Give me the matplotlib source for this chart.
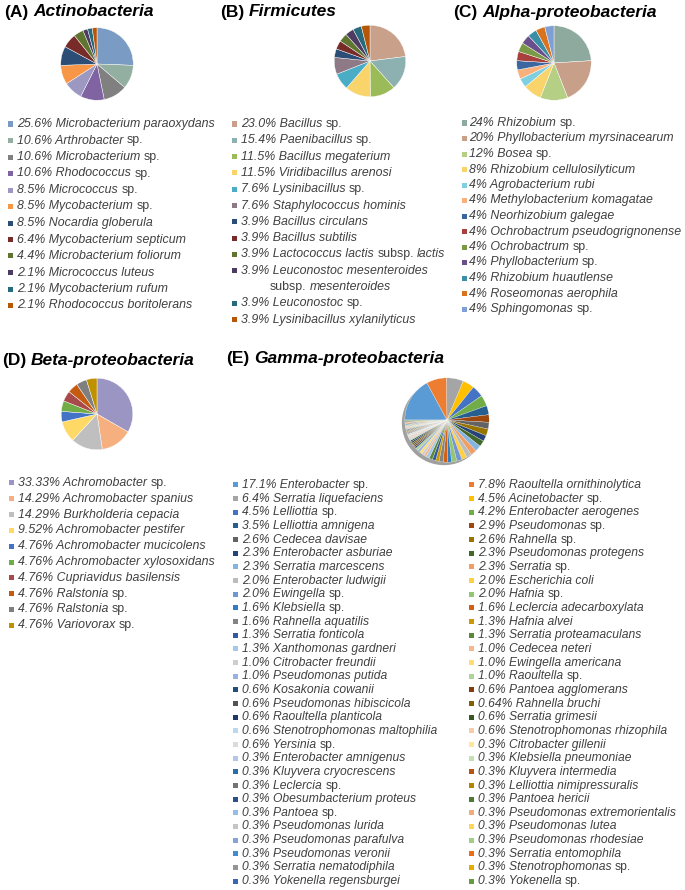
# Pie charts of isolate composition for five bacterial groups (A-E)
import colorsys
import matplotlib.pyplot as plt
import matplotlib.colors as mcolors
from matplotlib.patches import Rectangle

W, H = 685, 890

# ---- data -------------------------------------------------------------
act_pct = [25.6, 10.6, 10.6, 10.6, 8.5, 8.5, 8.5, 6.4, 4.4, 2.1, 2.1, 2.1]
act_names = ['Microbacterium paraoxydans', 'Arthrobacter sp.', 'Microbacterium sp.',
             'Rhodococcus sp.', 'Micrococcus sp.', 'Mycobacterium sp.',
             'Nocardia globerula', 'Mycobacterium septicum', 'Microbacterium foliorum',
             'Micrococcus luteus', 'Mycobacterium rufum', 'Rhodococcus boritolerans']

firm_pct = [23.0, 15.4, 11.5, 11.5, 7.6, 7.6, 3.9, 3.9, 3.9, 3.9, 3.9, 3.9]
firm_names = ['Bacillus sp.', 'Paenibacillus sp.', 'Bacillus megaterium',
              'Viridibacillus arenosi', 'Lysinibacillus sp.', 'Staphylococcus hominis',
              'Bacillus circulans', 'Bacillus subtilis', 'Lactococcus lactis subsp. lactis',
              'Leuconostoc mesenteroides\nsubsp. mesenteroides', 'Leuconostoc sp.',
              'Lysinibacillus xylanilyticus']

alpha_pct = [24, 20, 12, 8, 4, 4, 4, 4, 4, 4, 4, 4, 4]
alpha_names = ['Rhizobium sp.', 'Phyllobacterium myrsinacearum', 'Bosea sp.',
               'Rhizobium cellulosilyticum', 'Agrobacterium rubi',
               'Methylobacterium komagatae', 'Neorhizobium galegae',
               'Ochrobactrum pseudogrignonense', 'Ochrobactrum sp.',
               'Phyllobacterium sp.', 'Rhizobium huautlense', 'Roseomonas aerophila',
               'Sphingomonas sp.']

beta_pct = [33.33, 14.29, 14.29, 9.52, 4.76, 4.76, 4.76, 4.76, 4.76, 4.76]
beta_names = ['Achromobacter sp.', 'Achromobacter spanius', 'Burkholderia cepacia',
              'Achromobacter pestifer', 'Achromobacter mucicolens',
              'Achromobacter xylosoxidans', 'Cupriavidus basilensis', 'Ralstonia sp.',
              'Ralstonia sp.', 'Variovorax sp.']

# Gamma-proteobacteria, legend printed in two columns (row-wise order)
gam_left_pct = [17.1, 6.4, 4.5, 3.5, 2.6, 2.3, 2.3, 2.0, 2.0, 1.6, 1.6, 1.3, 1.3, 1.0, 1.0,
                0.6, 0.6, 0.6, 0.6, 0.6, 0.3, 0.3, 0.3, 0.3, 0.3, 0.3, 0.3, 0.3, 0.3, 0.3]
gam_left_names = ['Enterobacter sp.', 'Serratia liquefaciens', 'Lelliottia sp.',
                  'Lelliottia amnigena', 'Cedecea davisae', 'Enterobacter asburiae',
                  'Serratia marcescens', 'Enterobacter ludwigii', 'Ewingella sp.',
                  'Klebsiella sp.', 'Rahnella aquatilis', 'Serratia fonticola',
                  'Xanthomonas gardneri', 'Citrobacter freundii', 'Pseudomonas putida',
                  'Kosakonia cowanii', 'Pseudomonas hibiscicola', 'Raoultella planticola',
                  'Stenotrophomonas maltophilia', 'Yersinia sp.', 'Enterobacter amnigenus',
                  'Kluyvera cryocrescens', 'Leclercia sp.', 'Obesumbacterium proteus',
                  'Pantoea sp.', 'Pseudomonas lurida', 'Pseudomonas parafulva',
                  'Pseudomonas veronii', 'Serratia nematodiphila', 'Yokenella regensburgei']
gam_left_lbl = ['17.1', '6.4', '4.5', '3.5', '2.6', '2.3', '2.3', '2.0', '2.0', '1.6', '1.6',
                '1.3', '1.3', '1.0', '1.0', '0.6', '0.6', '0.6', '0.6', '0.6', '0.3', '0.3',
                '0.3', '0.3', '0.3', '0.3', '0.3', '0.3', '0.3', '0.3']
gam_right_pct = [7.8, 4.5, 4.2, 2.9, 2.6, 2.3, 2.3, 2.0, 2.0, 1.6, 1.3, 1.3, 1.0, 1.0, 1.0,
                 0.6, 0.64, 0.6, 0.6, 0.3, 0.3, 0.3, 0.3, 0.3, 0.3, 0.3, 0.3, 0.3, 0.3, 0.3]
gam_right_names = ['Raoultella ornithinolytica', 'Acinetobacter sp.', 'Enterobacter aerogenes',
                   'Pseudomonas sp.', 'Rahnella sp.', 'Pseudomonas protegens', 'Serratia sp.',
                   'Escherichia coli', 'Hafnia sp.', 'Leclercia adecarboxylata',
                   'Hafnia alvei', 'Serratia proteamaculans', 'Cedecea neteri',
                   'Ewingella americana', 'Raoultella sp.', 'Pantoea agglomerans',
                   'Rahnella bruchi', 'Serratia grimesii', 'Stenotrophomonas rhizophila',
                   'Citrobacter gillenii', 'Klebsiella pneumoniae', 'Kluyvera intermedia',
                   'Lelliottia nimipressuralis', 'Pantoea hericii',
                   'Pseudomonas extremorientalis', 'Pseudomonas lutea',
                   'Pseudomonas rhodesiae', 'Serratia entomophila', 'Stenotrophomonas sp.',
                   'Yokenella sp.']
gam_right_lbl = ['7.8', '4.5', '4.2', '2.9', '2.6', '2.3', '2.3', '2.0', '2.0', '1.6', '1.3',
                 '1.3', '1.0', '1.0', '1.0', '0.6', '0.64', '0.6', '0.6', '0.3', '0.3', '0.3',
                 '0.3', '0.3', '0.3', '0.3', '0.3', '0.3', '0.3', '0.3']

# ---- colours ----------------------------------------------------------
act_colors = ['#7A9CC4', '#93AFA2', '#808080', '#8064A2', '#9C98C2', '#F79646',
              '#2C4D75', '#772C2A', '#5F7530', '#4D3B62', '#276A7C', '#B65708']
firm_colors = ['#C9A08A', '#8DB0B0', '#9BBB59', '#F9D46B', '#4BACC6', '#8E7A86',
               '#2C4D75', '#772C2A', '#5F7530', '#4D3B62', '#276A7C', '#B65708']
alpha_colors = ['#8EA99E', '#C8A08A', '#B5CF84', '#F9D46B', '#7FCFE0', '#FAB07A',
                '#3B66A0', '#A8403E', '#7A9A45', '#6A4F8A', '#3A8EA5', '#D9731F', '#7EA0D6']
beta_colors = ['#9B95C3', '#F6B07F', '#BFBFBF', '#FFD966', '#4472C4', '#70AD47',
               '#A84A4C', '#C55A11', '#7F7F7F', '#BF9000']


def office_color(i):
    # Office style palette: six accents, then darker / lighter variants
    base = ['#5B9BD5', '#ED7D31', '#A5A5A5', '#FFC000', '#4472C4', '#70AD47'][i % 6]
    mods = [('b', 0), ('s', 0.6), ('t', 0.25), ('s', 0.8), ('t', 0.45),
            ('s', 0.5), ('t', 0.6), ('s', 0.7), ('t', 0.35), ('s', 0.9)]
    kind, f = mods[(i // 6) % len(mods)]
    h, l, s = colorsys.rgb_to_hls(*mcolors.to_rgb(base))
    if kind == 's':
        l = l * f
    elif kind == 't':
        l = l + (1 - l) * f
    return colorsys.hls_to_rgb(h, l, s)


gam_pct = []
for a, b in zip(gam_left_pct, gam_right_pct):
    gam_pct += [a, b]
gam_colors = [office_color(i) for i in range(len(gam_pct))]

# ---- figure -----------------------------------------------------------
plt.rcParams['font.family'] = 'Liberation Sans'
fig = plt.figure(figsize=(W / 100, H / 100), dpi=100)
renderer = fig.canvas.get_renderer()
TXT = '#404040'


def width_of(t):
    return t.get_window_extent(renderer=renderer).width


def space_width(size, weight='normal'):
    a = fig.text(0, 0, 'n n', fontsize=size, style='italic', weight=weight)
    b = fig.text(0, 0, 'nn', fontsize=size, style='italic', weight=weight)
    w = width_of(a) - width_of(b)
    a.remove()
    b.remove()
    return w


def split_label(label):
    # 'sp.' and 'subsp.' are upright, everything else italic
    segs = []
    for word in label.split(' '):
        style = 'normal' if word in ('sp.', 'subsp.', '(A)', '(B)', '(C)', '(D)', '(E)') else 'italic'
        if segs and segs[-1][1] == style:
            segs[-1][0] += ' ' + word
        else:
            segs.append([word, style])
    return segs


def draw_rich(x, y, label, size, color=TXT, weight='normal'):
    sp = space_width(size, weight)
    for i, (txt, style) in enumerate(split_label(label)):
        if i > 0:
            x += sp
        t = fig.text(x / W, 1 - y / H, txt, fontsize=size, style=style, weight=weight,
                     color=color, va='center', ha='left')
        x += width_of(t)


def draw_legend(x, y0, dy, pcts, names, colors, size, msize=5, gap=9, indent=29):
    y = y0
    for p, n, c in zip(pcts, names, colors):
        fig.add_artist(Rectangle(((x) / W, 1 - (y + msize / 2) / H), msize / W, msize / H,
                                 transform=fig.transFigure, color=c, lw=0))
        lines = n.split('\n')
        draw_rich(x + gap, y, p + '% ' + lines[0], size)
        for extra in lines[1:]:
            y += dy
            draw_rich(x + indent + gap, y, extra, size)
        y += dy


def add_pie(values, colors, cx, cy, r, start=90, lw=0.3):
    ax = fig.add_axes([(cx - r) / W, 1 - (cy + r) / H, 2 * r / W, 2 * r / H])
    ax.pie(values, colors=colors, startangle=start, counterclock=False, radius=1,
           wedgeprops=dict(edgecolor='white', linewidth=lw))
    ax.set_xlim(-1.02, 1.02)
    ax.set_ylim(-1.02, 1.02)
    ax.axis('off')
    return ax


# titles
TS = 12.5
draw_rich(4, 12, '(A) Actinobacteria', TS, color='black', weight='bold')
draw_rich(220, 12, '(B) Firmicutes', TS, color='black', weight='bold')
draw_rich(453, 12, '(C) Alpha-proteobacteria', TS, color='black', weight='bold')
draw_rich(2, 360, '(D) Beta-proteobacteria', TS, color='black', weight='bold')
draw_rich(226, 359, '(E) Gamma-proteobacteria', TS, color='black', weight='bold')

# pies
add_pie(act_pct, act_colors, 97, 64, 37)
add_pie(firm_pct, firm_colors, 370, 61, 36.5)
add_pie(alpha_pct, alpha_colors, 554, 63, 38)
add_pie(beta_pct, beta_colors, 97, 414, 36.5)

# gamma pie starts at 9 o'clock, with a soft shadow underneath
gx, gy, gr = 447, 420, 43
add_pie([1], ['#a0a0a0'], gx - 3, gy + 3, gr, lw=0)
add_pie(gam_pct, gam_colors, gx, gy, gr, start=180, lw=0.2)

# legends
LS = 8.9
draw_legend(8, 124, 16.5, [f'{v:.1f}' for v in act_pct], act_names, act_colors, LS)
draw_legend(232, 124, 16.3, [f'{v:.1f}' for v in firm_pct], firm_names, firm_colors, LS)
draw_legend(462, 123, 15.5, [f'{v:g}' for v in alpha_pct], alpha_names, alpha_colors, LS, gap=7)
draw_legend(9, 483, 15.8, [f'{v:.2f}' for v in beta_pct], beta_names, beta_colors, LS)

ES = 8.7
draw_legend(233, 485, 13.66, gam_left_lbl, gam_left_names, gam_colors[0::2], ES)
draw_legend(469, 485, 13.66, gam_right_lbl, gam_right_names, gam_colors[1::2], ES)

fig.savefig('out.png', dpi=100)
